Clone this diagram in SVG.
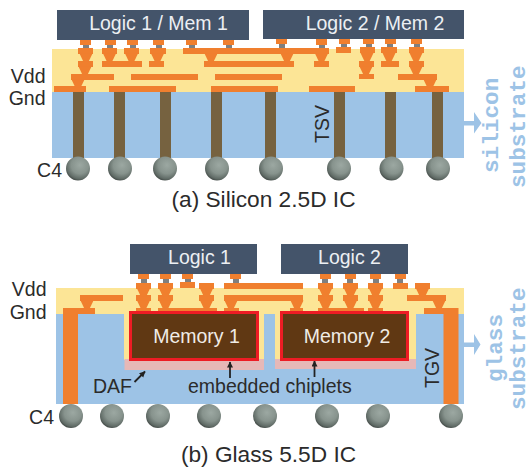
<svg xmlns="http://www.w3.org/2000/svg" xmlns:xlink="http://www.w3.org/1999/xlink" width="527" height="468" viewBox="0 0 527 468">
<style>
text{font-family:"Liberation Sans",Arial,sans-serif;font-size:19.5px;fill:#2b2b2b}
.r{text-anchor:end}
.die{fill:#44546a}
.die-t{fill:#eceff3;text-anchor:middle}
.y{fill:#fce596}
.b{fill:#9dc3e6}
.o{fill:#f07f2e}
.g{fill:#7f7f7f}
.tsv{fill:#766240}
.mono{font-family:"Liberation Mono","Courier New",monospace;font-size:22.7px;font-weight:700;fill:#9dc3e6}
.cap{font-size:22.7px;text-anchor:middle}
.mem{fill:#603813;stroke:#ed1c24;stroke-width:3}
.mem-t{fill:#f0ece6;text-anchor:middle}
.pink{fill:#e6b8b7}
.ar{stroke:#222;stroke-width:1.8;fill:none;marker-end:url(#ah)}
</style>
<defs>
<radialGradient id="ball" cx="0.58" cy="0.36" r="0.72">
<stop offset="0" stop-color="#9ca8a2"/><stop offset="0.5" stop-color="#87938d"/><stop offset="0.8" stop-color="#5f6a65"/><stop offset="1" stop-color="#2c302e"/>
</radialGradient>
<circle id="c4" r="12" fill="url(#ball)"/>
<polygon id="v" class="o" points="-6.5,-0.5 6.5,-0.5 2.7,7.5 -2.7,7.5"/>
<marker id="ah" markerWidth="7" markerHeight="7" refX="5.5" refY="3" orient="auto" markerUnits="userSpaceOnUse"><path d="M0,0L6,3L0,6z" fill="#222"/></marker>
</defs>

<g id="substrate-a">
<rect class="y" x="52" y="49" width="412" height="43"/>
<rect class="b" x="52" y="92" width="412" height="66"/>
</g>
<g id="substrate-b">
<rect class="y" x="56" y="288" width="408" height="26"/>
<rect class="b" x="56" y="314" width="408" height="90"/>
<rect class="y" x="124" y="308" width="140" height="52"/>
<rect class="y" x="275" y="308" width="141" height="52"/>
<rect class="pink" x="124.500" y="359" width="139.500" height="11"/>
<rect class="pink" x="275" y="359" width="141" height="10"/>
</g>

<g id="connectors">
<g class="tsv">
<rect x="73" y="92" width="11" height="66"/><rect x="114" y="92" width="11" height="66"/><rect x="160" y="92" width="11" height="66"/><rect x="211" y="92" width="11" height="66"/><rect x="265" y="92" width="11" height="66"/><rect x="334" y="92" width="11" height="66"/><rect x="385" y="92" width="11" height="66"/><rect x="432" y="92" width="11" height="66"/>
</g>
<g class="g">
<rect x="83" y="45" width="6" height="4"/><rect x="107" y="45" width="6" height="4"/><rect x="130" y="45" width="6" height="4"/><rect x="156" y="45" width="6" height="4"/><rect x="189" y="45" width="6" height="4"/><rect x="226" y="45" width="6" height="4"/><rect x="279" y="44" width="6" height="4"/><rect x="319" y="45" width="6" height="4"/><rect x="341" y="43" width="6" height="4"/><rect x="366" y="44" width="6" height="4"/><rect x="387" y="44" width="6" height="4"/><rect x="414" y="44" width="6" height="4"/>
<rect x="141" y="279" width="6" height="4"/><rect x="163" y="279" width="6" height="4"/><rect x="185" y="279" width="6" height="4"/><rect x="233" y="279" width="6" height="4"/><rect x="322" y="279" width="6" height="4"/><rect x="347" y="279" width="6" height="4"/><rect x="373" y="279" width="6" height="4"/><rect x="397" y="279" width="6" height="4"/>
</g>
<g class="o">
<rect x="80" y="39" width="11" height="6"/><rect x="105" y="39" width="11" height="6"/><rect x="127" y="39" width="11" height="6"/><rect x="153" y="39" width="11" height="6"/><rect x="186" y="39" width="11" height="6"/><rect x="223" y="39" width="11" height="6"/><rect x="276" y="38" width="11" height="6"/><rect x="316" y="39" width="11" height="6"/><rect x="339" y="38" width="11" height="6"/><rect x="363" y="38" width="11" height="6"/><rect x="385" y="38" width="11" height="6"/><rect x="411" y="38" width="11" height="6"/>
<rect x="78" y="48" width="15" height="6"/><rect x="102" y="48" width="15" height="6"/><rect x="124" y="48" width="15" height="6"/><rect x="150" y="48" width="16" height="6"/><rect x="183" y="48" width="146" height="6"/><rect x="336" y="47" width="15" height="6"/><rect x="360" y="47" width="15" height="6"/><rect x="381" y="47" width="16" height="6"/><rect x="409" y="47" width="15" height="6"/>
<rect x="78" y="61" width="15" height="6"/><rect x="102" y="61" width="40" height="6"/><rect x="149" y="61" width="15" height="6"/><rect x="204" y="61" width="90" height="6"/><rect x="314" y="61" width="15" height="6"/><rect x="359" y="61" width="15" height="6"/><rect x="381" y="61" width="18" height="6"/><rect x="409" y="61" width="15" height="6"/>
<rect x="71" y="74" width="43" height="6"/><rect x="131" y="74" width="67" height="6"/><rect x="215" y="74" width="67" height="6"/><rect x="359" y="74" width="15" height="5"/><rect x="398" y="74" width="39" height="6"/>
<rect x="54" y="86" width="32" height="6"/><rect x="109" y="86" width="67" height="6"/><rect x="211" y="86" width="67" height="6"/><rect x="309" y="86" width="46" height="6"/><rect x="415" y="86" width="34" height="6"/>

<rect x="138" y="274" width="11" height="5"/><rect x="160" y="274" width="11" height="5"/><rect x="182" y="274" width="11" height="5"/><rect x="230" y="274" width="11" height="5"/><rect x="320" y="274" width="11" height="5"/><rect x="345" y="274" width="11" height="5"/><rect x="370" y="274" width="11" height="5"/><rect x="395" y="274" width="11" height="5"/>
<rect x="136" y="283" width="15" height="6"/><rect x="158" y="283" width="15" height="6"/><rect x="180" y="282" width="15" height="6"/><rect x="199" y="283" width="15" height="6"/><rect x="224" y="283" width="79" height="6"/><rect x="318" y="283" width="15" height="6"/><rect x="343" y="283" width="15" height="6"/><rect x="368" y="283" width="15" height="6"/><rect x="393" y="283" width="15" height="6"/><rect x="415" y="283" width="15" height="6"/>
<rect x="80" y="295" width="43" height="6"/><rect x="136" y="295" width="15" height="6"/><rect x="158" y="295" width="15" height="6"/><rect x="199" y="295" width="15" height="6"/><rect x="224" y="295" width="79" height="6"/><rect x="318" y="295" width="15" height="6"/><rect x="343" y="295" width="15" height="6"/><rect x="368" y="295" width="15" height="6"/><rect x="407" y="295" width="39" height="6"/>
<rect x="63" y="308" width="32" height="6"/><rect x="136" y="308" width="15" height="4"/><rect x="158" y="308" width="59" height="4"/><rect x="224" y="308" width="15" height="4"/><rect x="290" y="308" width="13" height="4"/><rect x="318" y="308" width="46" height="4"/><rect x="368" y="308" width="15" height="4"/><rect x="424" y="308" width="34" height="6"/>
<rect x="63" y="308" width="15" height="96"/><rect x="443.500" y="308" width="15" height="96"/>
</g>
<g>
<use href="#v" x="86" y="54"/><use href="#v" x="109.500" y="54"/><use href="#v" x="131.500" y="54"/><use href="#v" x="157.500" y="54"/><use href="#v" x="211" y="54"/><use href="#v" x="287" y="54"/><use href="#v" x="321.500" y="54"/><use href="#v" x="367" y="53.500"/><use href="#v" x="389" y="53.500"/><use href="#v" x="416" y="53.500"/>
<use href="#v" x="85" y="67"/><use href="#v" x="366" y="67"/><use href="#v" x="416" y="67"/>
<use href="#v" x="78" y="80"/><use href="#v" x="430" y="80"/>
<use href="#v" x="143.500" y="289"/><use href="#v" x="165.500" y="289"/><use href="#v" x="206.500" y="289"/><use href="#v" x="325.500" y="289"/><use href="#v" x="350.500" y="289"/><use href="#v" x="375.500" y="289"/><use href="#v" x="422.500" y="289"/>
<use href="#v" x="87" y="301"/><use href="#v" x="143.500" y="301"/><use href="#v" x="165.500" y="301"/><use href="#v" x="206.500" y="301"/><use href="#v" x="231" y="301"/><use href="#v" x="297" y="301"/><use href="#v" x="325.500" y="301"/><use href="#v" x="350.500" y="301"/><use href="#v" x="375.500" y="301"/><use href="#v" x="439" y="301"/>
</g>
<path class="ar" d="M134.500,382L145,371.500"/>
<path class="ar" d="M230,378V362"/>
<path class="ar" d="M314.500,377V361"/>
<g fill="#9dc3e6">
<path d="M464,121H474V112L481.500,123L474,133.500V125.500H464z"/>
<path d="M464,342.500H474V334L480.500,344.500L474,355V347H464z"/>
</g>
</g>

<g id="die-logic1-mem1"><rect class="die" x="57" y="10" width="192" height="30"/><text class="die-t" x="158.500" y="30">Logic 1 / Mem 1</text></g>
<g id="die-logic2-mem2"><rect class="die" x="263" y="10" width="201" height="29"/><text class="die-t" x="375" y="30">Logic 2 / Mem 2</text></g>
<g id="die-logic1"><rect class="die" x="130" y="244" width="127" height="30"/><text class="die-t" x="199.500" y="264">Logic 1</text></g>
<g id="die-logic2"><rect class="die" x="281" y="244" width="127" height="30"/><text class="die-t" x="349.500" y="264">Logic 2</text></g>
<g id="memory1"><rect class="mem" x="130.500" y="312.500" width="127" height="47"/><text class="mem-t" x="196.500" y="343">Memory 1</text></g>
<g id="memory2"><rect class="mem" x="281.500" y="312.500" width="126" height="47"/><text class="mem-t" x="347" y="343">Memory 2</text></g>

<g id="c4-a">
<use href="#c4" x="78" y="168.500"/><use href="#c4" x="120" y="168.500"/><use href="#c4" x="165" y="168.500"/><use href="#c4" x="217" y="168.500"/><use href="#c4" x="271" y="168.500"/><use href="#c4" x="339" y="168.500"/><use href="#c4" x="391.500" y="168.500"/><use href="#c4" x="438" y="168.500"/>
</g>
<g id="c4-b">
<use href="#c4" x="71" y="416"/><use href="#c4" x="112" y="416"/><use href="#c4" x="158" y="416"/><use href="#c4" x="209" y="416"/><use href="#c4" x="265" y="416"/><use href="#c4" x="327" y="416"/><use href="#c4" x="378" y="416"/><use href="#c4" x="451" y="416"/>
</g>

<g id="labels">
<text class="r" x="45.500" y="83">Vdd</text>
<text class="r" x="45.500" y="105">Gnd</text>
<text class="r" x="62" y="177">C4</text>
<text transform="translate(329 143) rotate(-90)">TSV</text>
<text class="cap" x="263.500" y="207">(a) Silicon 2.5D IC</text>
<text class="mono" transform="translate(498 173) rotate(-90)">silicon</text>
<text class="mono" transform="translate(525 188) rotate(-90)">substrate</text>
<text class="r" x="46.500" y="296">Vdd</text>
<text class="r" x="46.500" y="318.500">Gnd</text>
<text class="r" x="54" y="424">C4</text>
<text x="93" y="393">DAF</text>
<text x="188" y="393">embedded chiplets</text>
<text transform="translate(438.500 388) rotate(-90)">TGV</text>
<text class="cap" x="268.500" y="462">(b) Glass 5.5D IC</text>
<text class="mono" transform="translate(502 382) rotate(-90)">glass</text>
<text class="mono" transform="translate(525 410) rotate(-90)">substrate</text>
</g>
</svg>
